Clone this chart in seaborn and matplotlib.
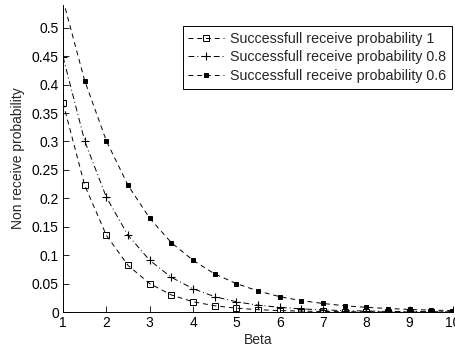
import matplotlib
matplotlib.use("Agg")
import matplotlib.pyplot as plt
import seaborn as sns
import pandas as pd

beta = [1, 1.5, 2, 2.5, 3, 3.5, 4, 4.5, 5, 5.5, 6, 6.5, 7, 7.5, 8, 8.5, 9, 9.5, 10]
p_1 = [0.368, 0.223, 0.135, 0.082, 0.050, 0.030, 0.018, 0.011, 0.0067, 0.0041,
       0.0025, 0.0015, 0.0009, 0.0006, 0.0003, 0.0002, 0.0001, 0.0001, 0.00005]
p_08 = [0.449, 0.301, 0.202, 0.135, 0.091, 0.061, 0.041, 0.027, 0.018, 0.012,
        0.0082, 0.0055, 0.0037, 0.0025, 0.0017, 0.0011, 0.0007, 0.0005, 0.0003]
p_06 = [0.549, 0.407, 0.301, 0.223, 0.165, 0.122, 0.091, 0.067, 0.050, 0.037,
        0.027, 0.020, 0.015, 0.011, 0.0082, 0.0061, 0.0045, 0.0033, 0.0025]
labels = ["Successfull receive probability 1",
          "Successfull receive probability 0.8",
          "Successfull receive probability 0.6"]
x_ticks = [1, 2, 3, 4, 5, 6, 7, 8, 9, 10]
y_ticks = [0, 0.05, 0.1, 0.15, 0.2, 0.25, 0.3, 0.35, 0.4, 0.45, 0.5]

sns.set_style("white")
plt.rcParams['font.family'] = ['Liberation Sans', 'DejaVu Sans']

fig = plt.figure(figsize=(4.55, 3.51), dpi=100)
ax = fig.add_axes([63/455, 1-312/351, 390/455, 307/351])

styles = [
    dict(linestyle=(0, (5, 4)), marker='s', markersize=5, markerfacecolor='none',
         markeredgecolor='black', markeredgewidth=0.7),
    dict(linestyle=(0, (6, 3, 1, 3)), marker='+', markersize=6,
         markeredgecolor='black', markeredgewidth=0.8),
    dict(linestyle=(0, (5, 4)), marker='s', markersize=3.5, markerfacecolor='black',
         markeredgecolor='black', markeredgewidth=0.7),
]
for ys, lab, st in zip([p_1, p_08, p_06], labels, styles):
    df = pd.DataFrame({"Beta": beta, "val": ys})
    sns.lineplot(data=df, x="Beta", y="val", ax=ax, color='black', linewidth=0.7,
                 label=lab, clip_on=True, **st)

ax.set_xlim(1, 10)
ax.set_ylim(0, 0.54)
ax.set_xticks(x_ticks)
ax.set_xticklabels([str(t) for t in x_ticks])
ax.set_yticks(y_ticks)
ax.set_yticklabels(["0", "0.05", "0.1", "0.15", "0.2", "0.25", "0.3", "0.35",
                    "0.4", "0.45", "0.5"])
ax.tick_params(direction='in', length=4, width=0.6, labelsize=10, pad=3,
               left=True, bottom=True, colors='black')
ax.set_xlabel("Beta", fontsize=10, labelpad=2)
ax.set_ylabel("Non receive probability", fontsize=10, labelpad=5)
for s in ['top', 'right']:
    ax.spines[s].set_visible(False)
for s in ['left', 'bottom']:
    ax.spines[s].set_color('black')
    ax.spines[s].set_linewidth(0.7)

leg = ax.legend(loc='upper right', bbox_to_anchor=(0.997, 0.932), fontsize=10.3,
                frameon=True, fancybox=False, framealpha=1, edgecolor='black',
                borderpad=0.4, labelspacing=0.33, handlelength=2.5,
                handletextpad=0.4, borderaxespad=0.0)
leg.get_frame().set_linewidth(0.7)

fig.savefig("out.png", dpi=100)
